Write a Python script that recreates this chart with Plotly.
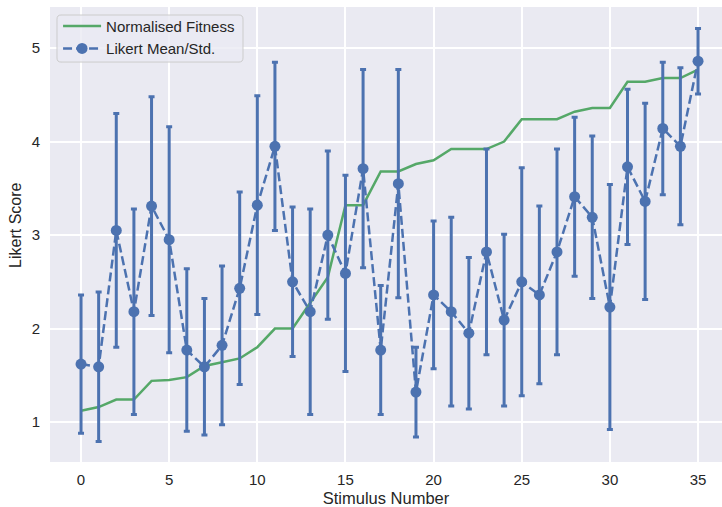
import plotly.graph_objects as go

# Stimulus indices
stimulus = list(range(36))

# Likert ratings per stimulus (mean and standard deviation)
likert_mean = [1.62, 1.59, 3.05, 2.18, 3.31, 2.95, 1.77, 1.59, 1.82, 2.43,
               3.32, 3.95, 2.50, 2.18, 3.00, 2.59, 3.71, 1.77, 3.55, 1.32,
               2.36, 2.18, 1.95, 2.82, 2.09, 2.50, 2.36, 2.82, 3.41, 3.19,
               2.23, 3.73, 3.36, 4.14, 3.95, 4.86]
likert_std = [0.74, 0.80, 1.25, 1.10, 1.17, 1.21, 0.87, 0.73, 0.85, 1.03,
              1.17, 0.90, 0.80, 1.10, 0.90, 1.05, 1.06, 0.69, 1.22, 0.48,
              0.79, 1.01, 0.81, 1.10, 0.92, 1.22, 0.95, 1.10, 0.85, 0.87,
              1.31, 0.83, 1.05, 0.71, 0.84, 0.35]

# Fitness scaled onto the Likert range
fitness = [1.12, 1.16, 1.24, 1.24, 1.44, 1.45, 1.48, 1.60, 1.64, 1.68,
           1.80, 2.00, 2.00, 2.28, 2.55, 3.32, 3.32, 3.68, 3.68, 3.76,
           3.80, 3.92, 3.92, 3.92, 4.00, 4.24, 4.24, 4.24, 4.32, 4.36,
           4.36, 4.64, 4.64, 4.68, 4.68, 4.77]

x_ticks = [0, 5, 10, 15, 20, 25, 30, 35]
y_ticks = [1, 2, 3, 4, 5]

BLUE = "#4C72B0"
GREEN = "#55A868"
TEXT = "#262626"
FONT = "Liberation Sans, Arial, sans-serif"

fig = go.Figure()

fig.add_trace(go.Scatter(
    x=stimulus, y=fitness,
    mode="lines",
    name="Normalised Fitness",
    line=dict(color=GREEN, width=2.5),
))

fig.add_trace(go.Scatter(
    x=stimulus, y=likert_mean,
    mode="lines+markers",
    name="Likert Mean/Std.",
    line=dict(color=BLUE, width=2.5, dash="9px,4px"),
    marker=dict(color=BLUE, size=11),
    error_y=dict(type="data", array=likert_std, visible=True,
                 color=BLUE, thickness=3, width=3),
))


def rounded_box(x0, y0, x1, y1, rx, ry):
    """SVG path for a rectangle with rounded corners (paper coordinates)."""
    return (f"M{x0 + rx},{y0} L{x1 - rx},{y0} Q{x1},{y0} {x1},{y0 + ry} "
            f"L{x1},{y1 - ry} Q{x1},{y1} {x1 - rx},{y1} "
            f"L{x0 + rx},{y1} Q{x0},{y1} {x0},{y1 - ry} "
            f"L{x0},{y0 + ry} Q{x0},{y0} {x0 + rx},{y0} Z")


# Legend frame (semi-transparent, rounded like a fancybox)
fig.add_shape(
    type="path", xref="paper", yref="paper", layer="above",
    path=rounded_box(0.0104, 0.879, 0.2872, 0.9824, 0.006, 0.009),
    fillcolor="rgba(234,234,242,0.8)",
    line=dict(color="#CCCCCC", width=1),
)

fig.update_layout(
    width=722, height=507,
    margin=dict(l=50, r=0, t=7, b=45),
    paper_bgcolor="white",
    plot_bgcolor="#EAEAF2",
    font=dict(family=FONT, color=TEXT, size=15),
    showlegend=True,
    legend=dict(
        x=0.012, y=0.994, xanchor="left", yanchor="top",
        bgcolor="rgba(0,0,0,0)",
        borderwidth=0,
        font=dict(size=15, family=FONT, color=TEXT),
        tracegroupgap=0,
        itemwidth=38,
    ),
    annotations=[dict(
        text="Likert Score", textangle=-90,
        xref="paper", yref="paper", x=-0.0506, y=0.521,
        xanchor="center", yanchor="middle", showarrow=False,
        font=dict(size=16, family=FONT, color=TEXT),
    )],
)

fig.update_xaxes(
    range=[-1.76, 36.36],
    tickvals=x_ticks,
    showgrid=True, gridcolor="white", gridwidth=1.5,
    zeroline=False, showline=False, ticks="",
    tickfont=dict(size=15, color=TEXT),
    ticklabelstandoff=7,
    title=dict(text="Stimulus Number", font=dict(size=16.5, color=TEXT), standoff=5),
)

fig.update_yaxes(
    range=[0.572, 5.44],
    tickvals=y_ticks,
    showgrid=True, gridcolor="white", gridwidth=1.5,
    zeroline=False, showline=False, ticks="",
    tickfont=dict(size=15, color=TEXT),
    ticklabelstandoff=9,
)

fig.write_html("out.html")
